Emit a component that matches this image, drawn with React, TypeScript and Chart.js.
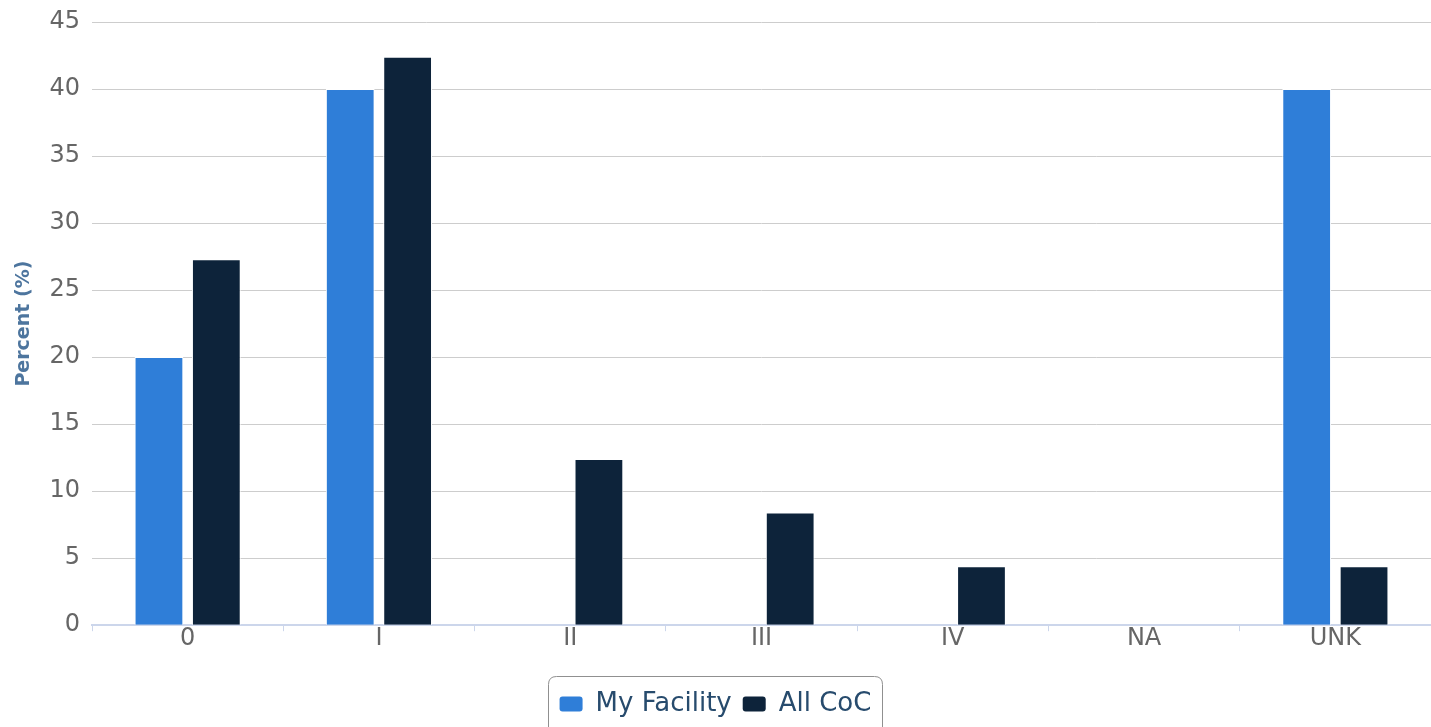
import React, { useEffect, useRef } from "react";
import { Chart, registerables } from "chart.js";

Chart.register(...registerables);

const categories = ["0", "I", "II", "III", "IV", "NA", "UNK"];
const myFacility = [20, 40, 0, 0, 0, 0, 40];
const allCoC = [27.3, 42.4, 12.4, 8.4, 4.4, 0, 4.4];
const seriesNames = ["My Facility", "All CoC"];
const seriesColors = ["#2f7ed8", "#0d233a"];
const yMax = 45;
const yStep = 5;

const FONT = "'DejaVu Sans', Verdana, sans-serif";

const legendBoxPlugin = {
  id: "legendBox",
  afterDraw(chart: any) {
    const lg = chart.legend;
    if (!lg || !lg.legendHitBoxes || !lg.legendHitBoxes.length) return;
    const boxes = lg.legendHitBoxes;
    let minX = Infinity, maxX = -Infinity, minY = Infinity, maxY = -Infinity;
    for (const b of boxes) {
      minX = Math.min(minX, b.left);
      maxX = Math.max(maxX, b.left + b.width);
      minY = Math.min(minY, b.top);
      maxY = Math.max(maxY, b.top + b.height);
    }
    const ctx = chart.ctx;
    const x = Math.round(minX - 12) + 0.5;
    const y = Math.round(minY - 15) + 0.5;
    const w = Math.round(maxX - minX + 22);
    const h = Math.round(maxY - minY + 44);
    ctx.save();
    ctx.strokeStyle = "#909090";
    ctx.lineWidth = 1;
    ctx.beginPath();
    const r = 8;
    ctx.moveTo(x + r, y);
    ctx.lineTo(x + w - r, y);
    ctx.quadraticCurveTo(x + w, y, x + w, y + r);
    ctx.lineTo(x + w, y + h - r);
    ctx.quadraticCurveTo(x + w, y + h, x + w - r, y + h);
    ctx.lineTo(x + r, y + h);
    ctx.quadraticCurveTo(x, y + h, x, y + h - r);
    ctx.lineTo(x, y + r);
    ctx.quadraticCurveTo(x, y, x + r, y);
    ctx.stroke();
    ctx.restore();
  },
};

export default function App() {
  const ref = useRef<HTMLCanvasElement | null>(null);
  useEffect(() => {
    document.body.style.margin = "0";
    const canvas = ref.current;
    if (!canvas) return;
    const chart = new Chart(canvas, {
      type: "bar",
      data: {
        labels: categories,
        datasets: [
          {
            label: seriesNames[0],
            data: myFacility,
            backgroundColor: seriesColors[0],
            borderColor: "#ffffff",
            borderWidth: 1,
            categoryPercentage: 0.6,
            barPercentage: 0.85,
          },
          {
            label: seriesNames[1],
            data: allCoC,
            backgroundColor: seriesColors[1],
            borderColor: "#ffffff",
            borderWidth: 1,
            categoryPercentage: 0.6,
            barPercentage: 0.85,
          },
        ],
      },
      options: {
        animation: false,
        responsive: false,
        maintainAspectRatio: false,
        layout: { padding: { top: 22, right: 0, bottom: 0, left: 0 } },
        plugins: {
          tooltip: { enabled: false },
          legend: {
            position: "bottom",
            title: { display: true, text: "", font: { size: 10 }, padding: 11 },
            labels: {
              color: "#274b6d",
              font: { family: FONT, size: 26 },
              boxWidth: 23,
              boxHeight: 15,
              padding: 11,
              useBorderRadius: true,
              borderRadius: 3,
              generateLabels: (c: any) =>
                c.data.datasets.map((d: any, i: number) => ({
                  text: d.label,
                  fillStyle: d.backgroundColor,
                  strokeStyle: d.backgroundColor,
                  lineWidth: 0,
                  hidden: false,
                  datasetIndex: i,
                  borderRadius: 3,
                  fontColor: "#274b6d",
                })),
            },
          },
        },
        scales: {
          x: {
            grid: {
              display: true,
              drawOnChartArea: false,
              drawTicks: true,
              tickLength: 6,
              color: "#ccd6eb",
              offset: true,
            },
            border: { display: true, color: "#ccd6eb", width: 2 },
            ticks: {
              color: "#666666",
              font: { family: FONT, size: 24 },
              padding: -7,
              maxRotation: 0,
            },
          },
          y: {
            min: 0,
            max: yMax,
            ticks: {
              stepSize: yStep,
              color: "#666666",
              font: { family: FONT, size: 24 },
              padding: 12,
            },
            grid: { color: "#cdcdcd", drawTicks: false, lineWidth: 1 },
            border: { display: false },
            title: {
              display: true,
              text: "Percent (%)",
              color: "#4d759e",
              font: { family: FONT, size: 19, weight: "bold" },
              padding: { top: 13, bottom: 0 },
            },
            afterFit: (s: any) => {
              s.width = 92;
              s.paddingTop = 0;
            },
          },
        },
      },
      plugins: [legendBoxPlugin],
    });
    return () => chart.destroy();
  }, []);
  return (
    <div style={{ width: 1431, height: 727 }}>
      <canvas ref={ref} width={1431} height={727} style={{ display: "block" }} />
    </div>
  );
}
